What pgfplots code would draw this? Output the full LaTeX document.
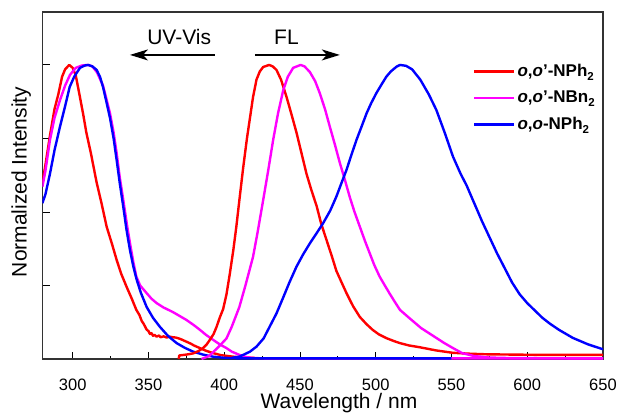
\documentclass[border=0pt]{standalone}
\usepackage{fontspec}
\setmainfont{Liberation Sans}
\usepackage{pgfplots}
\pgfplotsset{compat=1.18}
\usetikzlibrary{arrows.meta}
\definecolor{cred}{RGB}{255,0,0}
\definecolor{cmag}{RGB}{255,0,255}
\definecolor{cblue}{RGB}{0,0,255}
\newcommand{\subtwo}{\raisebox{-0.45ex}{\fontsize{11.5}{12}\selectfont 2}}
\begin{document}
\begin{tikzpicture}
\begin{axis}[
  width=560.6pt, height=347pt, scale only axis,
  xmin=280, xmax=650, ymin=0, ymax=1.18,
  xtick={300,350,...,650}, minor x tick num=1,
  ytick={0,0.25,0.5,0.75,1}, yticklabels={},
  tick align=inside, tick pos=left,
  major tick length=7.5pt, minor tick length=3.5pt,
  axis line style={line width=1.1pt, black!80},
  every tick/.style={black, line width=0.9pt},
  /pgf/number format/assume math mode=true,
  xticklabel style={font=\fontsize{16.5}{19}\selectfont, anchor=base, yshift=-31pt, inner sep=0pt},
  xlabel={Wavelength / nm},
  ylabel={Normalized Intensity},
  xlabel style={font=\fontsize{21}{25}\selectfont, at={(axis description cs:0.529,-0.143)}, anchor=base, inner sep=0pt},
  ylabel style={font=\fontsize{21}{25}\selectfont, at={(axis description cs:-0.038,0.51)}, anchor=center},
  legend cell align=left,
  legend style={draw=none, fill=none, at={(rel axis cs:0.768,0.859)}, anchor=north west,
    font=\fontsize{17}{20}\selectfont\bfseries, row sep=5.5pt, inner sep=0pt,
    nodes={inner sep=2pt, text height=13pt, text depth=4pt}},
  legend image code/.code={\draw[#1] (0pt,0pt) -- (40pt,0pt);},
  every axis plot/.append style={line width=2.4pt, line join=round},
]
% red UV
\addplot[cred] coordinates {
(280,0.60)(282,0.66)(285,0.76)(288,0.85)(290.5,0.90)(293,0.96)(295,0.985)(297.7,1.0)
(300,0.99)(302,0.965)(304.8,0.89)(307,0.83)(309,0.77)(312,0.70)(315.8,0.60)(319,0.53)
(322.4,0.45)(326,0.39)(329,0.337)(332,0.29)(335.6,0.245)(339,0.205)(342,0.167)(344,0.150)
(345.5,0.13)(347,0.118)(348.8,0.10)(350,0.095)(351,0.085)(352,0.088)(353,0.079)(354,0.082)
(355.4,0.076)(357,0.080)(358,0.074)(360,0.077)(362,0.073)(364,0.076)(366,0.074)(368,0.073)
(370,0.070)(372,0.066)(375,0.059)(378,0.052)(380,0.046)(384,0.037)(388,0.028)(392.7,0.02)
(398,0.013)(405.8,0.008)(412,0.005)(420,0.004)
};
\addlegendentry{\textit{o},\textit{o}'-NPh\subtwo}
% magenta UV
\addplot[cmag] coordinates {
(280,0.586)(282,0.64)(285,0.745)(288,0.82)(291.6,0.88)(295,0.93)(298.2,0.966)(302,0.99)
(306,0.998)(310,1.0)(313,0.995)(316,0.975)(320,0.93)(324.6,0.836)(327,0.77)(329,0.70)
(331,0.62)(333.4,0.54)(336,0.45)(337.8,0.394)(340,0.33)(342,0.28)(344.5,0.25)(348.8,0.224)
(352,0.205)(355.4,0.19)(360,0.175)(366,0.16)(370,0.148)(375,0.133)(380,0.115)(384,0.099)
(388,0.082)(392.7,0.065)(397,0.05)(401.5,0.037)(405,0.025)(410,0.014)(415,0.006)(420,0.003)
(430,0.002)(500,0.002)(650,0.002)
};
\addlegendentry{\textit{o},\textit{o}'-NBn\subtwo}
% blue UV
\addplot[cblue] coordinates {
(280,0.53)(282,0.56)(285,0.63)(288,0.71)(291.6,0.79)(295,0.86)(298,0.925)(301,0.96)
(304.8,0.99)(308,0.998)(310.3,1.0)(313,0.995)(315.8,0.983)(318,0.96)(320,0.925)(322,0.88)
(324.6,0.82)(327,0.75)(329,0.677)(331,0.60)(333.4,0.517)(335.5,0.44)(337.8,0.37)(340,0.315)
(342.2,0.27)(345,0.225)(348.8,0.177)(353,0.14)(357.6,0.109)(363,0.078)(368.6,0.054)
(374,0.038)(379.5,0.025)(386,0.015)(392.5,0.008)(400,0.004)(410,0.002)(550,0.002)
};
\addlegendentry{\textit{o},\textit{o}-NPh\subtwo}
% red FL
\addplot[cred, forget plot] coordinates {
(370,0.0)(370.3,0.012)(375,0.015)(379.5,0.019)(383,0.027)(386,0.037)(388.5,0.05)(390.5,0.065)
(393,0.085)(395,0.11)(397,0.14)(399.3,0.17)(401.5,0.22)(403.7,0.29)(406,0.37)(408,0.45)
(410,0.54)(412.5,0.65)(415,0.75)(417,0.82)(419,0.89)(421.3,0.95)(423.5,0.978)(425.7,0.993)
(429.7,1.0)(432,0.995)(434.5,0.983)(437.5,0.95)(441.2,0.89)(444.5,0.83)(447.7,0.77)(451,0.70)
(454.3,0.63)(457.5,0.575)(461,0.52)(464,0.46)(467.5,0.405)(471,0.35)(474,0.30)(477.5,0.26)
(480.7,0.224)(485,0.18)(489.5,0.143)(494,0.118)(498,0.099)(502,0.084)(507,0.071)(512,0.061)
(516,0.054)(522,0.046)(529,0.04)(540,0.029)(551,0.021)(562,0.018)(573,0.016)(590,0.015)
(610,0.014)(630,0.014)(650,0.014)
};
% magenta FL
\addplot[cmag, forget plot] coordinates {
(385,0.0)(390,0.01)(393,0.025)(397,0.045)(401.5,0.07)(405,0.11)(410,0.177)(414,0.25)
(419,0.347)(422,0.43)(425.7,0.54)(429,0.64)(432.3,0.745)(435.5,0.835)(439,0.915)(442,0.96)
(445.5,0.99)(450.4,1.0)(453,0.995)(456.5,0.976)(460,0.945)(463,0.905)(466.5,0.85)(469.7,0.79)
(473,0.73)(476.3,0.667)(479.6,0.61)(482.9,0.55)(486,0.50)(489.5,0.45)(493,0.40)(496,0.36)
(499,0.32)(502.6,0.28)(506,0.25)(509,0.224)(512.5,0.195)(516,0.167)(522,0.14)(530,0.105)
(536,0.085)(545,0.055)(550,0.04)(557,0.02)(565,0.01)(575,0.005)(590,0.003)(650,0.002)
};
% blue FL
\addplot[cblue, forget plot] coordinates {
(405,0.004)(410,0.008)(412.5,0.014)(417,0.025)(421.3,0.042)(426,0.07)(430,0.11)(434.5,0.155)
(439,0.21)(443,0.26)(447.7,0.314)(452,0.355)(456.5,0.393)(461,0.428)(465.3,0.462)(470,0.505)
(474,0.552)(477.5,0.60)(480.7,0.643)(484,0.695)(487.3,0.745)(491,0.795)(494,0.836)(497,0.87)
(500.5,0.905)(504,0.935)(507,0.96)(510,0.978)(513.7,0.994)(516,1.0)(520,0.997)(524,0.985)
(529.4,0.95)(535,0.90)(540,0.847)(545.5,0.77)(551,0.688)(556,0.63)(560,0.59)(565,0.53)
(570,0.47)(575,0.415)(580,0.36)(585,0.31)(590,0.26)(595,0.22)(600,0.19)(605,0.165)
(610,0.14)(615,0.12)(621,0.099)(630,0.072)(640,0.05)(650,0.033)
};
% annotations
\draw[line width=1.7pt, -{Stealth[length=18pt,width=11pt,inset=5pt]}] (axis cs:393.8,1.034) -- (axis cs:337.8,1.034);
\draw[line width=1.7pt, -{Stealth[length=18pt,width=11pt,inset=5pt]}] (axis cs:420.2,1.034) -- (axis cs:476.3,1.034);
\node[anchor=base, font=\fontsize{21}{25}\selectfont, inner sep=0pt] at (axis cs:370.3,1.068) {UV-Vis};
\node[anchor=base, font=\fontsize{21}{25}\selectfont, inner sep=0pt] at (axis cs:441.1,1.068) {FL};
\end{axis}
\pgfresetboundingbox
\useasboundingbox ([shift={(-42.4pt,-55pt)}]current axis.south west) rectangle ([shift={(16pt,12pt)}]current axis.north east);
\end{tikzpicture}
\end{document}
